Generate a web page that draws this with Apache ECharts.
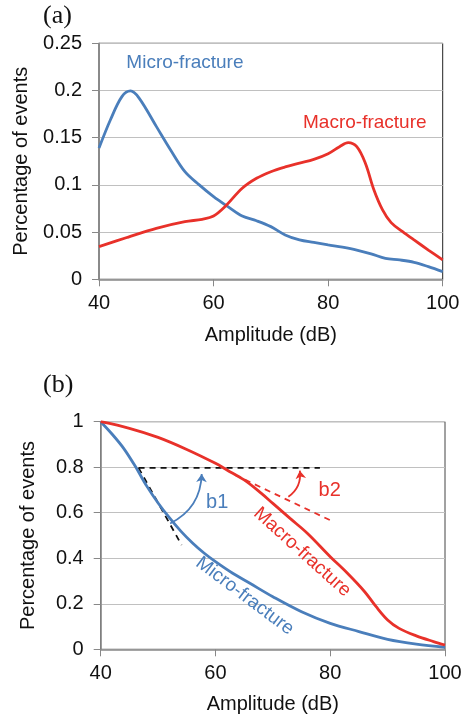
<!DOCTYPE html>
<html><head><meta charset="utf-8">
<script src="https://cdn.jsdelivr.net/npm/echarts@6/dist/echarts.min.js"></script>
<style>html,body{margin:0;padding:0;background:#fff}#c{width:465px;height:717px}</style>
</head><body><div id="c"></div>
<script>
// Panel (a): distribution
const microA = [[40,0.139],[42,0.169],[44,0.1935],[45.5,0.1995],[47,0.192],[50,0.162],[52.5,0.137],[55,0.114],[57.5,0.100],[60,0.0876],[62.5,0.077],[65,0.067],[67.5,0.062],[70,0.0558],[72.5,0.047],[75,0.0417],[77.5,0.039],[80,0.0364],[82.5,0.034],[85,0.031],[87.5,0.027],[90,0.0222],[92.5,0.0205],[95,0.018],[97.5,0.0134],[100,0.0081]];
const macroA = [[40,0.0346],[45,0.0445],[50,0.054],[55,0.061],[58,0.0636],[60,0.067],[62,0.077],[65,0.0964],[67.5,0.107],[70,0.114],[72.5,0.119],[75,0.123],[77.5,0.127],[80,0.133],[82,0.1405],[83.5,0.1448],[85,0.1405],[86.5,0.123],[88,0.0946],[89.5,0.0735],[91,0.060],[93,0.0505],[95,0.0417],[97.5,0.031],[100,0.0205]];
// Panel (b): cumulative
const microB = [[40,1.0],[42,0.945],[44,0.883],[46,0.805],[48,0.718],[50,0.643],[52,0.577],[54,0.518],[56,0.467],[58,0.423],[60,0.385],[63,0.334],[66,0.290],[70,0.231],[75,0.165],[80,0.114],[85,0.078],[90,0.044],[95,0.023],[100,0.009]];
const macroB = [[40,1.0],[45,0.971],[50,0.931],[55,0.878],[60,0.817],[62,0.788],[65,0.744],[68,0.685],[70,0.641],[73,0.575],[76,0.510],[80,0.407],[83,0.334],[86,0.253],[88,0.187],[90,0.129],[92,0.092],[95,0.059],[98,0.034],[100,0.019]];
// Annotation lines (panel b)
const hLine = [[46.6,0.797],[78.2,0.797]];
const tangentMicro = [[46.6,0.797],[54.1,0.458]];
const tangentMacro = [[63.4,0.766],[80.5,0.561]];
const arrowB1 = [[52.1,0.553],[57.6,0.77]];
const arrowB2 = [[72.7,0.67],[74.7,0.785]];
const xTicks = [40,60,80,100];
const yTicksA = [0,0.05,0.1,0.15,0.2,0.25];
const yTicksB = [0,0.2,0.4,0.6,0.8,1];

const BLUE = '#4a7ebb', RED = '#e8312a', FONT = '"Liberation Sans", Arial, sans-serif';
const chart = echarts.init(document.getElementById('c'));
function xAx(i){return {gridIndex:i,type:'value',min:40,max:100,interval:20,
  axisLine:{lineStyle:{color:'#888',width:1.5}},axisTick:{show:true,length:7,lineStyle:{color:'#888'}},
  splitLine:{show:false},axisLabel:{fontSize:20,color:'#111',fontFamily:FONT,margin:14},
  name:'Amplitude (dB)',nameLocation:'middle',nameGap:i===0?46:45,nameTextStyle:{fontSize:20,color:'#111',fontFamily:FONT}};}
function yAx(i,max,iv,gap){return {gridIndex:i,type:'value',min:0,max:max,interval:iv,
  axisLine:{show:true,lineStyle:{color:'#888',width:1.5}},axisTick:{show:true,length:7,lineStyle:{color:'#888'}},
  splitLine:{show:true,lineStyle:{color:'#c0c0c0',width:1.2}},
  axisLabel:{fontSize:20,color:'#111',fontFamily:FONT,margin:17},
  name:'Percentage of events',nameLocation:'middle',nameGap:gap,nameTextStyle:{fontSize:20,color:'#111',fontFamily:FONT}};}
function ln(data,color,xi,yi){return {type:'line',xAxisIndex:xi,yAxisIndex:yi,data:data,smooth:0.35,showSymbol:false,symbol:'none',lineStyle:{color:color,width:2.8},z:5};}
function dash(data,color,xi,yi){return {type:'line',xAxisIndex:xi,yAxisIndex:yi,data:data,showSymbol:false,symbol:'none',lineStyle:{color:color,width:1.8,type:[6,5]},z:4};}
chart.setOption({
  animation:false,
  grid:[{left:99,top:43.3,right:22.3,height:236,show:true,borderColor:'#222',borderWidth:1},
        {left:100.7,top:421.7,right:20,height:227.6,show:true,borderColor:'#444',borderWidth:1}],
  xAxis:[xAx(0),xAx(1)],
  yAxis:[yAx(0,0.25,0.05,68),yAx(1,1,0.2,62)],
  series:[
    ln(microA,BLUE,0,0), ln(macroA,RED,0,0),
    ln(microB,BLUE,1,1), ln(macroB,RED,1,1),
    dash(hLine,'#111',1,1), dash(tangentMicro,'#111',1,1), dash(tangentMacro,RED,1,1),
    {type:'lines',coordinateSystem:'cartesian2d',xAxisIndex:1,yAxisIndex:1,
     symbol:['none','arrow'],symbolSize:8,
     data:[{coords:arrowB1,lineStyle:{color:BLUE,width:1.8,opacity:1,curveness:-0.3}},
           {coords:arrowB2,lineStyle:{color:RED,width:1.8,opacity:1,curveness:-0.3}}],z:6}
  ]
});
function P(gi,pt){return chart.convertToPixel({gridIndex:gi},pt);}
const tA = P(0,[55,0.229]), tB=P(0,[86.4,0.1655]);
const b1=P(1,[60.3,0.643]), b2=P(1,[79.9,0.696]);
const mB=P(1,[75.1,0.427]), uB=P(1,[65.1,0.234]);
chart.setOption({graphic:[
  {type:'text',left:43,top:3,style:{text:'(a)',font:'26px "Liberation Serif", "Times New Roman", serif',fill:'#111'}},
  {type:'text',left:43,top:372,style:{text:'(b)',font:'26px "Liberation Serif", "Times New Roman", serif',fill:'#111'}},
  {type:'text',x:tA[0],y:tA[1],style:{text:'Micro-fracture',font:'19px '+FONT,fill:BLUE,align:'center',verticalAlign:'middle'}},
  {type:'text',x:tB[0],y:tB[1],style:{text:'Macro-fracture',font:'19px '+FONT,fill:RED,align:'center',verticalAlign:'middle'}},
  {type:'text',x:b1[0],y:b1[1],style:{text:'b1',font:'20px '+FONT,fill:BLUE,align:'center',verticalAlign:'middle'}},
  {type:'text',x:b2[0],y:b2[1],style:{text:'b2',font:'20px '+FONT,fill:RED,align:'center',verticalAlign:'middle'}},
  {type:'text',x:mB[0],y:mB[1],rotation:-42*Math.PI/180,style:{text:'Macro-fracture',font:'19px '+FONT,fill:RED,align:'center',verticalAlign:'middle'}},
  {type:'text',x:uB[0],y:uB[1],rotation:-37*Math.PI/180,style:{text:'Micro-fracture',font:'19px '+FONT,fill:BLUE,align:'center',verticalAlign:'middle'}}
]});
</script></body></html>
